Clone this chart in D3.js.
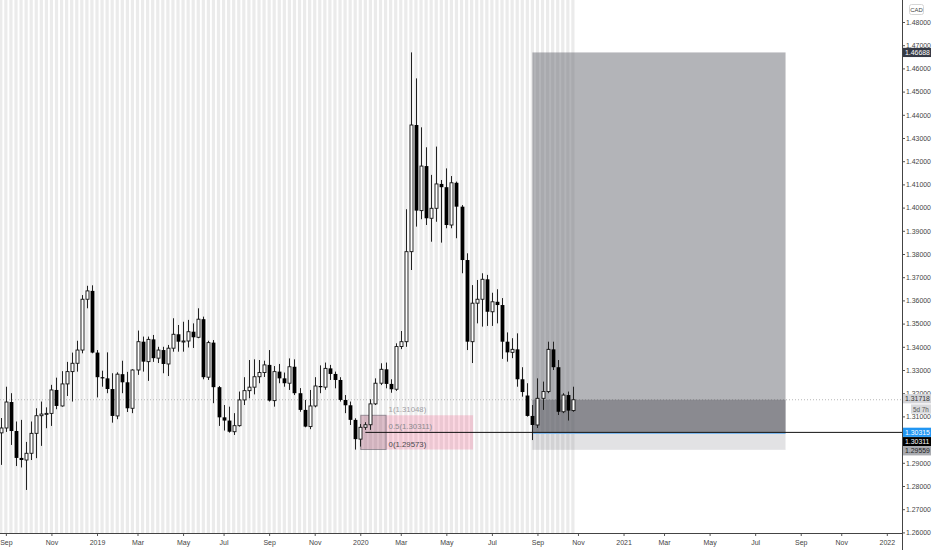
<!DOCTYPE html>
<html><head><meta charset="utf-8">
<script src="https://cdn.jsdelivr.net/npm/d3@7"></script>
<style>
body{margin:0;background:#fff;overflow:hidden}
svg{display:block}
text{font-family:"Liberation Sans",Arial,sans-serif}
</style>
</head><body>
<svg id="chart" width="932" height="550"></svg>
<script>
// ---------- DATA ----------
const firstWeek = "2018-08-27";
const lastWeek = "2020-10-26";
const open = [1.3029,1.3050,1.3162,1.3037,1.2921,1.2912,1.2941,1.3027,1.3103,1.3110,
1.3113,1.3214,1.3145,1.3240,1.3293,1.3329,1.3386,1.3605,1.3641,1.3375,
1.3269,1.3264,1.3218,1.3102,1.3282,1.3247,1.3135,1.3300,1.3422,1.3336,
1.3432,1.3351,1.3386,1.3326,1.3394,1.3454,1.3422,1.3425,1.3465,1.3441,
1.3519,1.3269,1.3418,1.3226,1.3096,1.3082,1.3034,1.3060,1.3171,1.3211,
1.3226,1.3271,1.3289,1.3322,1.3168,1.3293,1.3264,1.3243,1.3314,1.3200,
1.3128,1.3056,1.3145,1.3231,1.3226,1.3307,1.3283,1.3257,1.3171,1.3148,
1.3085,1.3002,1.3053,1.3064,1.3154,1.3243,1.3303,1.3240,1.3217,1.3401,
1.3422,1.3810,1.4356,1.3987,1.4179,1.3954,1.3997,1.4102,1.4088,1.3925,
1.4107,1.4004,1.3774,1.3422,1.3588,1.3605,1.3691,1.3551,1.3594,1.3580,
1.3422,1.3376,1.3389,1.3260,1.3190,1.3102,1.3063,1.3178,1.3207,1.3389,
1.3312,1.3120,1.3192,1.3125];
const high = [1.3093,1.3228,1.3200,1.3078,1.3085,1.2990,1.3078,1.3135,1.3164,1.3139,
1.3236,1.3267,1.3295,1.3335,1.3375,1.3426,1.3623,1.3663,1.3665,1.3386,
1.3297,1.3376,1.3286,1.3290,1.3340,1.3292,1.3303,1.3470,1.3444,1.3444,
1.3451,1.3400,1.3400,1.3408,1.3523,1.3494,1.3508,1.3516,1.3501,1.3566,
1.3530,1.3426,1.3429,1.3231,1.3149,1.3142,1.3114,1.3207,1.3269,1.3343,
1.3346,1.3343,1.3340,1.3386,1.3317,1.3326,1.3289,1.3350,1.3346,1.3222,
1.3171,1.3214,1.3269,1.3320,1.3332,1.3322,1.3293,1.3269,1.3192,1.3164,
1.3092,1.3067,1.3075,1.3174,1.3264,1.3329,1.3332,1.3260,1.3415,1.3468,
1.3993,1.4669,1.4557,1.4346,1.4260,1.4141,1.4263,1.4119,1.4169,1.4136,
1.4112,1.4011,1.3803,1.3666,1.3688,1.3717,1.3710,1.3633,1.3648,1.3610,
1.3462,1.3437,1.3458,1.3312,1.3243,1.3149,1.3264,1.3250,1.3422,1.3422,
1.3343,1.3200,1.3207,1.3228];
const low = [1.2891,1.3033,1.2977,1.2886,1.2880,1.2783,1.2912,1.2920,1.2973,1.3049,
1.3059,1.3131,1.3142,1.3188,1.3164,1.3293,1.3372,1.3566,1.3372,1.3182,
1.3228,1.3200,1.3073,1.3088,1.3200,1.3119,1.3114,1.3279,1.3293,1.3253,
1.3335,1.3330,1.3286,1.3274,1.3379,1.3379,1.3379,1.3397,1.3395,1.3437,
1.3260,1.3257,1.3157,1.3059,1.3039,1.3030,1.3020,1.3056,1.3149,1.3178,
1.3195,1.3243,1.3270,1.3164,1.3142,1.3243,1.3228,1.3214,1.3192,1.3120,
1.3053,1.3045,1.3139,1.3200,1.3215,1.3257,1.3221,1.3164,1.3114,1.3063,
1.2957,1.2970,1.3042,1.3042,1.3149,1.3235,1.3221,1.3202,1.3210,1.3390,
1.3400,1.3731,1.3918,1.3950,1.3925,1.3853,1.3939,1.3849,1.3911,1.3911,
1.3868,1.3717,1.3386,1.3330,1.3501,1.3487,1.3490,1.3490,1.3501,1.3348,
1.3336,1.3351,1.3228,1.3185,1.3099,1.2998,1.3050,1.3128,1.3200,1.3300,
1.3106,1.3114,1.3082,1.3120];
const close = [1.3050,1.3162,1.3037,1.2921,1.2912,1.2941,1.3027,1.3103,1.3110,1.3113,
1.3214,1.3145,1.3240,1.3293,1.3329,1.3386,1.3605,1.3641,1.3375,1.3269,
1.3264,1.3218,1.3102,1.3282,1.3247,1.3135,1.3300,1.3422,1.3336,1.3432,
1.3351,1.3386,1.3326,1.3394,1.3454,1.3422,1.3425,1.3465,1.3441,1.3519,
1.3269,1.3418,1.3226,1.3096,1.3082,1.3034,1.3060,1.3171,1.3211,1.3226,
1.3271,1.3289,1.3322,1.3168,1.3293,1.3264,1.3243,1.3314,1.3200,1.3128,
1.3056,1.3145,1.3231,1.3226,1.3307,1.3283,1.3257,1.3171,1.3148,1.3085,
1.3002,1.3053,1.3064,1.3154,1.3243,1.3303,1.3240,1.3217,1.3401,1.3422,
1.3810,1.4356,1.3987,1.4179,1.3954,1.3997,1.4102,1.4088,1.3925,1.4107,
1.4004,1.3774,1.3422,1.3588,1.3605,1.3691,1.3551,1.3594,1.3580,1.3422,
1.3376,1.3389,1.3260,1.3205,1.3102,1.3063,1.3178,1.3207,1.3389,1.3312,
1.3120,1.3192,1.3125,1.31718];

const priceTicks = [1.26,1.27,1.28,1.29,1.30,1.31,1.32,1.33,1.34,1.35,1.36,1.37,1.38,1.39,1.40,1.41,1.42,1.43,1.44,1.45,1.46,1.47,1.48];
const hiddenPriceTicks = [1.30]; // fully covered by the axis tags in the reference
const timeTicks = ["2018-09-03","2018-11-05","2019-01-07","2019-03-04","2019-05-06","2019-07-01","2019-09-02","2019-11-04","2020-01-06","2020-03-02","2020-05-04","2020-07-06","2020-09-07","2020-11-02","2021-01-04","2021-03-01","2021-05-03","2021-07-05","2021-09-06","2021-11-01","2022-01-03"];
const timeTickLabels = ["Sep","Nov","2019","Mar","May","Jul","Sep","Nov","2020","Mar","May","Jul","Sep","Nov","2021","Mar","May","Jul","Sep","Nov","2022"];

const currency = "CAD";
const currentPrice = 1.31718;
const countdown = "5d 7h";
const positionStart = "2020-08-31", positionEnd = "2021-08-16";
const positionTarget = 1.46688, positionEntry = 1.30315, positionStop = 1.29559;
const rayStart = "2020-01-13", rayPrice = 1.30311;
const fibStart = "2020-01-06", fibEnd = "2020-06-10", fibBoxEnd = "2020-02-10";
const fibRatios = ["1","0.5","0"];
const fibPrices = [1.31048, 1.30311, 1.29573];

// ---------- SCALES ----------
const P = d3.utcParse("%Y-%m-%d");
const dates = d3.utcMonday.range(P(firstWeek), d3.utcDay.offset(P(lastWeek), 1));
const x = d3.scaleUtc().domain([P("2019-01-07"), P("2022-01-03")]).range([97, 886.8]);
const y = d3.scaleLinear().domain([1.26, 1.48]).range([532.4, 22]);
const axisX = 902, axisY = 533;
const fmt = d3.format(".5f");
const FONT = '"Liberation Sans",Arial,sans-serif';

const svg = d3.select("#chart");
const plot = svg.append("g");

// background stripes (one per bar)
plot.append("g").selectAll("rect").data(dates).join("rect")
  .attr("x", d => x(d) - 1.6).attr("width", 3.2)
  .attr("y", 0).attr("height", axisY)
  .attr("fill", "#ebebeb");

// current price line
plot.append("line")
  .attr("x1", 0).attr("x2", axisX)
  .attr("y1", y(currentPrice)).attr("y2", y(currentPrice))
  .attr("stroke", "#b8b8b8").attr("stroke-width", 1).attr("stroke-dasharray", "1,2");

// fib retracement zone
const fx1 = x(P(fibStart)), fx2 = x(P(fibEnd));
plot.append("rect")
  .attr("x", fx1).attr("width", fx2 - fx1)
  .attr("y", y(fibPrices[0])).attr("height", y(fibPrices[2]) - y(fibPrices[0]))
  .attr("fill", "rgba(242,54,110,0.2)");
const fbx2 = x(P(fibBoxEnd));
plot.append("rect")
  .attr("x", fx1 + 0.5).attr("width", fbx2 - fx1)
  .attr("y", y(fibPrices[0])).attr("height", y(fibPrices[2]) - y(fibPrices[0]))
  .attr("fill", "rgba(110,105,115,0.22)")
  .attr("stroke", "rgba(90,90,100,0.55)").attr("stroke-width", 1);

// position boxes
const px1 = x(P(positionStart)), px2 = x(P(positionEnd));
plot.append("rect")
  .attr("x", px1).attr("width", px2 - px1)
  .attr("y", y(positionTarget)).attr("height", y(positionEntry) - y(positionTarget))
  .attr("fill", "rgba(110,112,118,0.52)");
plot.append("rect")
  .attr("x", px1).attr("width", px2 - px1)
  .attr("y", y(currentPrice)).attr("height", y(positionEntry) - y(currentPrice))
  .attr("fill", "rgba(70,72,78,0.38)");
plot.append("rect")
  .attr("x", px1).attr("width", px2 - px1)
  .attr("y", y(positionEntry)).attr("height", y(positionStop) - y(positionEntry))
  .attr("fill", "rgba(110,112,118,0.2)");
plot.append("line")
  .attr("x1", px1).attr("x2", px2)
  .attr("y1", y(positionEntry) + 1).attr("y2", y(positionEntry) + 1)
  .attr("stroke", "#7db8ee").attr("stroke-width", 1.2);

// candles
const bars = dates.map((d, i) => ({d, o: open[i], h: high[i], l: low[i], c: close[i]}));
const cg = plot.append("g");
bars.forEach(b => {
  const cx = Math.round(x(b.d)) + 0.5;
  const up = b.c >= b.o;
  cg.append("line").attr("x1", cx).attr("x2", cx)
    .attr("y1", y(b.h)).attr("y2", y(b.l))
    .attr("stroke", "#222").attr("stroke-width", 1);
  const top = y(Math.max(b.o, b.c)), bot = y(Math.min(b.o, b.c));
  if (up) {
    cg.append("rect").attr("x", cx - 1.5).attr("width", 3)
      .attr("y", top).attr("height", Math.max(bot - top, 1))
      .attr("fill", "#fff").attr("stroke", "#111").attr("stroke-width", 0.9);
  } else {
    cg.append("rect").attr("x", cx - 1.9).attr("width", 3.8)
      .attr("y", top).attr("height", Math.max(bot - top, 1.2))
      .attr("fill", "#000");
  }
});

// horizontal ray
plot.append("line")
  .attr("x1", x(P(rayStart))).attr("x2", axisX)
  .attr("y1", y(rayPrice)).attr("y2", y(rayPrice))
  .attr("stroke", "#111").attr("stroke-width", 1);

// fib labels
const fibColors = ["#a0a0a4", "#8a8a8e", "#4a4a4e"];
fibPrices.forEach((p, i) => {
  plot.append("text")
    .attr("x", fbx2 + 3).attr("y", y(p) - 3)
    .attr("font-size", 7.8).attr("fill", fibColors[i])
    .text(fibRatios[i] + "(" + fmt(p) + ")");
});

// ---------- AXES ----------
const yAxis = d3.axisRight(y).tickValues(priceTicks).tickFormat(fmt).tickSize(3).tickPadding(1);
const gy = svg.append("g").attr("transform", `translate(${axisX},0)`).call(yAxis);
gy.select(".domain").remove();
gy.selectAll("line").attr("stroke", "#555");
gy.selectAll("text").attr("font-size", 6.9).attr("fill", "#444").attr("font-family", FONT);
gy.selectAll(".tick").filter(d => hiddenPriceTicks.some(h => Math.abs(h - d) < 1e-9))
  .select("text").remove();

const xAxis = d3.axisBottom(x).tickValues(timeTicks.map(P))
  .tickFormat((d, i) => timeTickLabels[i]).tickSize(3).tickPadding(4);
const gx = svg.append("g").attr("transform", `translate(0,${axisY})`).call(xAxis);
gx.select(".domain").remove();
gx.selectAll("line").attr("stroke", "#555");
gx.selectAll("text").attr("font-size", 7).attr("fill", "#444").attr("font-family", FONT);

svg.append("line").attr("x1", 0).attr("x2", axisX).attr("y1", axisY + 0.5).attr("y2", axisY + 0.5)
  .attr("stroke", "#444").attr("stroke-width", 1);
svg.append("line").attr("x1", axisX + 0.5).attr("x2", axisX + 0.5).attr("y1", 0).attr("y2", 550)
  .attr("stroke", "#444").attr("stroke-width", 1);

// currency badge
svg.append("rect").attr("x", 909.5).attr("y", 4.5).attr("width", 14).attr("height", 10).attr("rx", 2)
  .attr("fill", "#fff").attr("stroke", "#d6d6d6");
svg.append("text").attr("x", 916.5).attr("y", 11.8).attr("text-anchor", "middle")
  .attr("font-size", 6).attr("fill", "#444").text(currency);

// price labels on the axis
function tag(cy, bg, fg, text, x0, fs) {
  const xs = x0 || axisX + 1;
  svg.append("rect").attr("x", xs).attr("y", cy - 4.6).attr("width", 931 - xs).attr("height", 9.2)
    .attr("fill", bg);
  svg.append("text").attr("x", xs + 2).attr("y", cy + 2.5)
    .attr("font-size", fs || 6.9).attr("fill", fg)
    .text(text);
}
tag(y(positionTarget), "#363a45", "#fff", fmt(positionTarget));
tag(y(currentPrice) - 1, "#d3d4d8", "#333", fmt(currentPrice));
tag(y(currentPrice) + 9.3, "#d9dadd", "#555", countdown, 911, 6.3);
tag(y(positionEntry), "#2196f3", "#fff", fmt(positionEntry));
tag(y(rayPrice) + 9.3, "#000", "#fff", fmt(rayPrice));
tag(y(positionStop) + 1, "#a9abb0", "#222", fmt(positionStop));
</script>
</body></html>
